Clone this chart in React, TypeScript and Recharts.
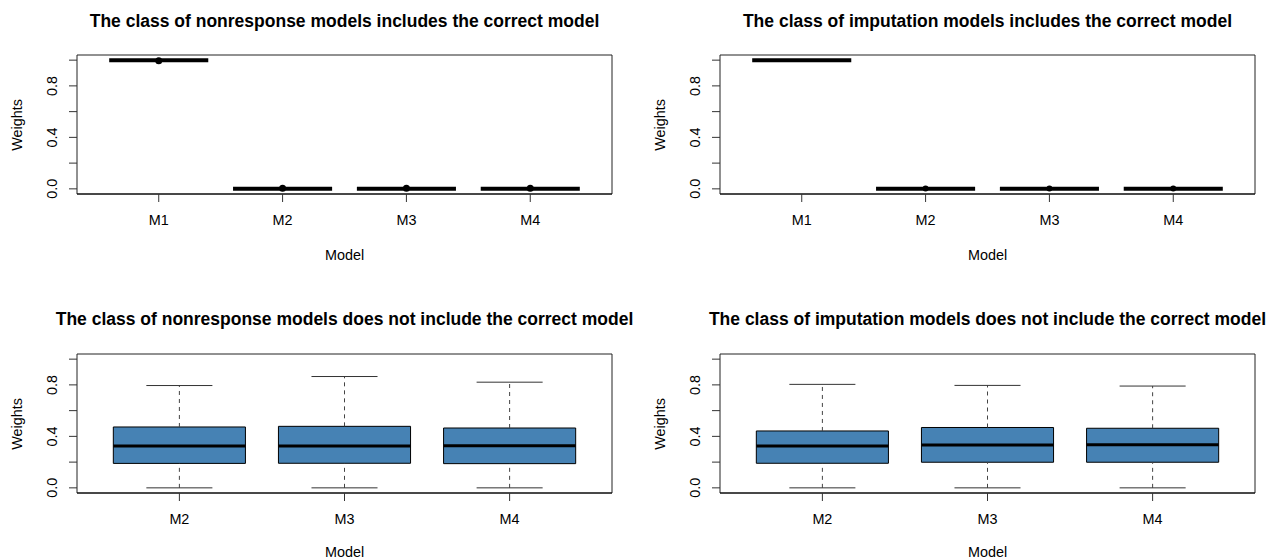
import { ComposedChart, XAxis, YAxis, Scatter, ReferenceArea, ReferenceLine } from 'recharts';

const topModels = ['M1', 'M2', 'M3', 'M4'];
const bottomModels = ['M2', 'M3', 'M4'];
const weightTicks = [0, 0.2, 0.4, 0.6, 0.8, 1];
const labelledTicks = [0, 0.4, 0.8];

// nonresponse models include the correct model
const nrInLower = [1, 0, 0, 0];
const nrInQ1 = [1, 0, 0, 0];
const nrInMedian = [1, 0, 0, 0];
const nrInQ3 = [1, 0, 0, 0];
const nrInUpper = [1, 0, 0, 0];
const nrInOutliers = [[0.996], [0.004], [0.004], [0.004]];

// imputation models include the correct model
const imInLower = [1, 0, 0, 0];
const imInQ1 = [1, 0, 0, 0];
const imInMedian = [1, 0, 0, 0];
const imInQ3 = [1, 0, 0, 0];
const imInUpper = [1, 0, 0, 0];
const imInOutliers = [[], [0.003], [0.003], [0.003]];

// nonresponse models do not include the correct model
const nrOutLower = [0, 0, 0];
const nrOutQ1 = [0.19, 0.191, 0.188];
const nrOutMedian = [0.326, 0.325, 0.327];
const nrOutQ3 = [0.473, 0.478, 0.465];
const nrOutUpper = [0.795, 0.865, 0.821];

// imputation models do not include the correct model
const imOutLower = [0, 0, 0];
const imOutQ1 = [0.191, 0.199, 0.199];
const imOutMedian = [0.325, 0.333, 0.334];
const imOutQ3 = [0.442, 0.469, 0.463];
const imOutUpper = [0.804, 0.796, 0.791];

const FONT = '"Liberation Sans", Arial, Helvetica, sans-serif';
const AXIS_FS = 14.4;
const TITLE_FS = 17.5;
const Y_DOMAIN: [number, number] = [-0.04, 1.04];

function YTick(props: any) {
    const { x, y, payload } = props;
    if (!labelledTicks.includes(payload.value)) return <g />;
    return (
        <text
            x={x}
            y={y}
            transform={`rotate(-90 ${x} ${y})`}
            textAnchor="middle"
            dominantBaseline="central"
            fontSize={AXIS_FS}
            fontFamily={FONT}
            fill="#000"
        >
            {payload.value.toFixed(1)}
        </text>
    );
}

function makeXTick(models: string[]) {
    return (props: any) => {
        const { x, y, payload } = props;
        return (
            <text x={x} y={y} textAnchor="middle" dominantBaseline="central" fontSize={AXIS_FS} fontFamily={FONT} fill="#000">
                {models[payload.value - 1]}
            </text>
        );
    };
}

type PanelProps = {
    title: string;
    models: string[];
    lower: number[];
    q1: number[];
    median: number[];
    q3: number[];
    upper: number[];
    outliers?: number[][];
    left: number;
    top: number;
    plotLeft: number;
    plotRight: number;
    plotTop: number;
    plotBottom: number;
    titleY: number;
    xLabelGap: number;
    dotRadius?: number;
};

function BoxPanel(p: PanelProps) {
    const n = p.models.length;
    const pad = 0.04 * n;
    const xDomain: [number, number] = [0.5 - pad, n + 0.5 + pad];
    const rows = p.models.map((m, i) => ({
        pos: i + 1,
        model: m,
        lower: p.lower[i],
        q1: p.q1[i],
        median: p.median[i],
        q3: p.q3[i],
        upper: p.upper[i],
    }));
    const points = (p.outliers || []).flatMap((vals, i) => vals.map((v) => ({ pos: i + 1, w: v })));
    const cx = (p.plotLeft + p.plotRight) / 2;
    const cy = (p.plotTop + p.plotBottom) / 2;

    return (
        <div style={{ position: 'absolute', left: p.left, top: p.top, width: 634, height: 280 }}>
            <ComposedChart
                width={634}
                height={280}
                margin={{ top: p.plotTop, right: 634 - p.plotRight, bottom: 280 - p.plotBottom - 30, left: 0 }}
            >
                <XAxis
                    type="number"
                    dataKey="pos"
                    domain={xDomain}
                    ticks={rows.map((r) => r.pos)}
                    allowDataOverflow
                    axisLine={{ stroke: '#000' }}
                    tickLine={{ stroke: '#333' }}
                    tickSize={8}
                    tickMargin={18}
                    height={30}
                    tick={makeXTick(p.models)}
                />
                <YAxis
                    type="number"
                    domain={Y_DOMAIN}
                    ticks={weightTicks}
                    allowDataOverflow
                    axisLine={false}
                    tickLine={{ stroke: '#333' }}
                    tickSize={8}
                    tickMargin={17}
                    width={p.plotLeft}
                    tick={<YTick />}
                />
                <ReferenceArea x1={xDomain[0]} x2={xDomain[1]} y1={Y_DOMAIN[0]} y2={Y_DOMAIN[1]} fill="none" stroke="#222" strokeWidth={1} />
                {rows.map((r) => (
                    <ReferenceArea
                        key={`box-${r.model}`}
                        x1={r.pos - 0.4}
                        x2={r.pos + 0.4}
                        y1={r.q1}
                        y2={r.q3}
                        fill="#4682B4"
                        fillOpacity={1}
                        stroke="#000"
                        strokeWidth={1}
                    />
                ))}
                {rows.map((r) => (
                    <ReferenceLine
                        key={`wu-${r.model}`}
                        segment={[{ x: r.pos, y: r.q3 }, { x: r.pos, y: r.upper }]}
                        stroke="#444"
                        strokeDasharray="4 4"
                    />
                ))}
                {rows.map((r) => (
                    <ReferenceLine
                        key={`wl-${r.model}`}
                        segment={[{ x: r.pos, y: r.lower }, { x: r.pos, y: r.q1 }]}
                        stroke="#444"
                        strokeDasharray="4 4"
                    />
                ))}
                {rows.map((r) => (
                    <ReferenceLine
                        key={`cu-${r.model}`}
                        segment={[{ x: r.pos - 0.2, y: r.upper }, { x: r.pos + 0.2, y: r.upper }]}
                        stroke="#333"
                    />
                ))}
                {rows.map((r) => (
                    <ReferenceLine
                        key={`cl-${r.model}`}
                        segment={[{ x: r.pos - 0.2, y: r.lower }, { x: r.pos + 0.2, y: r.lower }]}
                        stroke="#333"
                    />
                ))}
                {rows.map((r) => (
                    <ReferenceLine
                        key={`md-${r.model}`}
                        segment={[{ x: r.pos - 0.4, y: r.median }, { x: r.pos + 0.4, y: r.median }]}
                        stroke="#000"
                        strokeWidth={r.q1 === r.q3 ? 4 : 3}
                    />
                ))}
                <Scatter
                    data={points}
                    dataKey="w"
                    isAnimationActive={false}
                    shape={(s: any) => <circle cx={s.cx} cy={s.cy} r={p.dotRadius || 3} fill="#000" />}
                />
            </ComposedChart>
            <div
                style={{
                    position: 'absolute',
                    left: cx,
                    top: p.titleY,
                    transform: 'translate(-50%, -50%)',
                    whiteSpace: 'nowrap',
                    fontFamily: FONT,
                    fontWeight: 'bold',
                    fontSize: TITLE_FS,
                    color: '#000',
                }}
            >
                {p.title}
            </div>
            <div
                style={{
                    position: 'absolute',
                    left: cx,
                    top: p.plotBottom + p.xLabelGap,
                    transform: 'translate(-50%, -50%)',
                    whiteSpace: 'nowrap',
                    fontFamily: FONT,
                    fontSize: AXIS_FS,
                    lineHeight: 1,
                    color: '#000',
                }}
            >
                Model
            </div>
            <div
                style={{
                    position: 'absolute',
                    left: p.plotLeft - 60,
                    top: cy,
                    transform: 'translate(-50%, -50%) rotate(-90deg)',
                    whiteSpace: 'nowrap',
                    fontFamily: FONT,
                    fontSize: AXIS_FS,
                    color: '#000',
                }}
            >
                Weights
            </div>
        </div>
    );
}

export default function App() {
    return (
        <div style={{ position: 'absolute', left: 0, top: 0, width: 1268, height: 560, background: '#fff', overflow: 'hidden' }}>
            <BoxPanel
                title="The class of nonresponse models includes the correct model"
                models={topModels}
                lower={nrInLower}
                q1={nrInQ1}
                median={nrInMedian}
                q3={nrInQ3}
                upper={nrInUpper}
                outliers={nrInOutliers}
                left={0}
                top={0}
                plotLeft={77}
                plotRight={612}
                plotTop={55}
                plotBottom={194}
                titleY={21}
                xLabelGap={61}
                dotRadius={3.5}
            />
            <BoxPanel
                title="The class of imputation models includes the correct model"
                models={topModels}
                lower={imInLower}
                q1={imInQ1}
                median={imInMedian}
                q3={imInQ3}
                upper={imInUpper}
                outliers={imInOutliers}
                left={634}
                top={0}
                plotLeft={86}
                plotRight={621}
                plotTop={55}
                plotBottom={194}
                titleY={21}
                xLabelGap={61}
                dotRadius={3}
            />
            <BoxPanel
                title="The class of nonresponse models does not include the correct model"
                models={bottomModels}
                lower={nrOutLower}
                q1={nrOutQ1}
                median={nrOutMedian}
                q3={nrOutQ3}
                upper={nrOutUpper}
                left={0}
                top={280}
                plotLeft={77}
                plotRight={612}
                plotTop={74}
                plotBottom={213}
                titleY={39}
                xLabelGap={59}
            />
            <BoxPanel
                title="The class of imputation models does not include the correct model"
                models={bottomModels}
                lower={imOutLower}
                q1={imOutQ1}
                median={imOutMedian}
                q3={imOutQ3}
                upper={imOutUpper}
                left={634}
                top={280}
                plotLeft={86}
                plotRight={621}
                plotTop={74}
                plotBottom={213}
                titleY={39}
                xLabelGap={59}
            />
        </div>
    );
}
